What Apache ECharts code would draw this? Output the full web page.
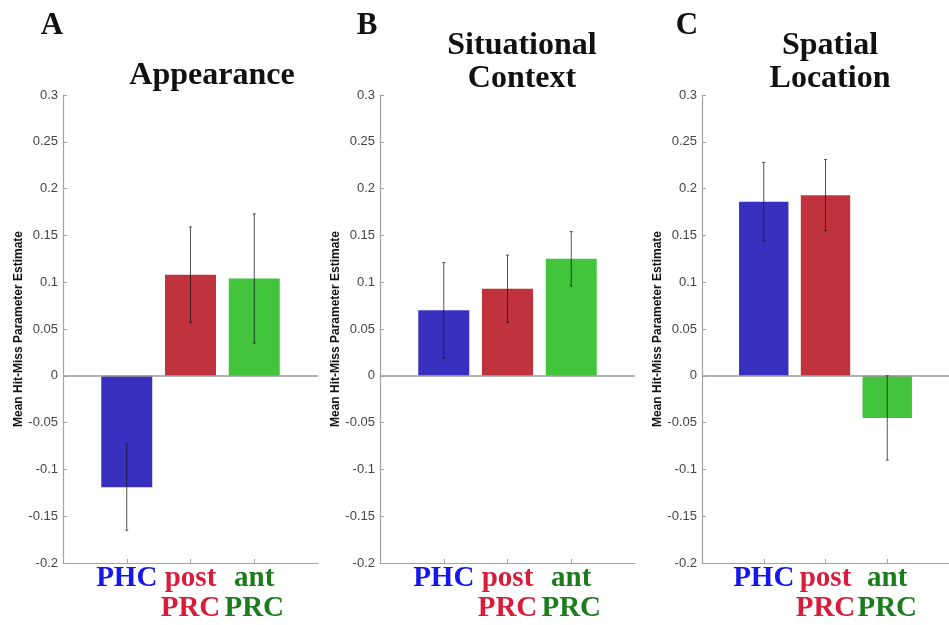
<!DOCTYPE html>
<html>
<head>
<meta charset="utf-8">
<script src="https://cdn.jsdelivr.net/npm/echarts@6/dist/echarts.min.js"></script>
<style>html,body{margin:0;padding:0;background:#fff}#chart{width:949px;height:625px}</style>
</head>
<body>
<div id="chart"></div>
<script>
// data
const regions = ['PHC', 'post PRC', 'ant PRC']
const regionX = [1, 2, 3]
const panelLetters = ['A', 'B', 'C']
const panelTitles = ['Appearance', 'Situational\nContext', 'Spatial\nLocation']
const appearanceMean = [-0.119, 0.108, 0.104]
const appearanceErr = [0.046, 0.051, 0.069]
const contextMean = [0.070, 0.093, 0.125]
const contextErr = [0.051, 0.036, 0.029]
const locationMean = [0.186, 0.193, -0.045]
const locationErr = [0.042, 0.038, 0.045]
const yMin = -0.2, yMax = 0.3, yStep = 0.05

const panelMeans = [appearanceMean, contextMean, locationMean]
const panelErrs = [appearanceErr, contextErr, locationErr]

const barColors = ['#3a30c0', '#c0323c', '#42c43c']
const labelKeys = ['b', 'r', 'g']
const gridLeft = [63, 380, 702]
const axisGray = '#a3a3a3'
const serif = '"Liberation Serif", "Times New Roman", serif'
const sans = '"Liberation Sans", Arial, sans-serif'

function renderBar(params, api) {
  const x = api.value(0), y = api.value(1)
  const w = api.size([0.8, 0])[0]
  const p0 = api.coord([x, 0]), p1 = api.coord([x, y])
  return {
    type: 'rect',
    shape: { x: p0[0] - w / 2, y: Math.min(p0[1], p1[1]), width: w, height: Math.abs(p1[1] - p0[1]) },
    style: { fill: barColors[params.dataIndex] }
  }
}

function renderErr(params, api) {
  const x = api.value(0), lo = api.value(1), hi = api.value(2)
  const a = api.coord([x, hi]), b = api.coord([x, lo])
  const style = { stroke: 'rgba(25,25,25,0.75)', lineWidth: 1 }
  return {
    type: 'group',
    children: [
      { type: 'line', shape: { x1: a[0], y1: a[1], x2: b[0], y2: b[1] }, style },
      { type: 'line', shape: { x1: a[0] - 1.5, y1: a[1], x2: a[0] + 1.5, y2: a[1] }, style },
      { type: 'line', shape: { x1: b[0] - 1.5, y1: b[1], x2: b[0] + 1.5, y2: b[1] }, style }
    ]
  }
}

function regionLabel(v) {
  const i = regionX.indexOf(v)
  if (i < 0) return ''
  const k = labelKeys[i]
  return regions[i].split(' ').map(w => `{${k}|${w}}`).join('\n')
}

const richBase = { fontFamily: serif, fontWeight: 'bold', fontSize: 29, lineHeight: 30 }
const rich = {
  b: { ...richBase, color: '#1616ee' },
  r: { ...richBase, color: '#d81c3a' },
  g: { ...richBase, color: '#1c7c1c' }
}

const grid = [], xAxis = [], yAxis = [], series = [], title = []
panelMeans.forEach((means, p) => {
  const errs = panelErrs[p]
  grid.push({ left: gridLeft[p], width: 255, top: 95, bottom: 62 })
  xAxis.push({
    gridIndex: p, type: 'value', min: 0, max: 4, interval: 1, position: 'bottom',
    axisLine: { onZero: false, lineStyle: { color: axisGray, width: 1.2 } },
    axisTick: { inside: true, length: 4, customValues: regionX, lineStyle: { color: axisGray } },
    axisLabel: { customValues: regionX, margin: 1, formatter: regionLabel, rich },
    splitLine: { show: false }
  })
  yAxis.push({
    gridIndex: p, type: 'value', min: yMin, max: yMax, interval: yStep,
    axisLine: { show: true, lineStyle: { color: axisGray, width: 1.2 } },
    axisTick: { show: true, inside: true, length: 4, lineStyle: { color: axisGray } },
    splitLine: { show: false },
    axisLabel: { color: '#444', fontSize: 13, fontFamily: sans, margin: 5, formatter: v => String(+v.toFixed(2)) },
    name: 'Mean Hit-Miss Parameter Estimate', nameLocation: 'middle', nameGap: 38,
    nameTextStyle: { fontSize: 12, fontWeight: 'bold', color: '#111', fontFamily: sans }
  })
  series.push({
    type: 'custom', xAxisIndex: p, yAxisIndex: p, renderItem: renderBar,
    encode: { x: 0, y: 1 },
    data: means.map((m, i) => [regionX[i], m]),
    markLine: {
      silent: true, symbol: 'none', label: { show: false },
      lineStyle: { color: '#999', width: 1.5, type: 'solid' },
      data: [{ yAxis: 0 }]
    }
  })
  series.push({
    type: 'custom', xAxisIndex: p, yAxisIndex: p, renderItem: renderErr, z: 5,
    encode: { x: 0, y: [1, 2] },
    data: means.map((m, i) => [regionX[i], m - errs[i], m + errs[i]])
  })
})

const letterX = [52, 367, 687]
const titleX = [212, 522, 830]
const titleTop = [59, 29, 29]
panelLetters.forEach((t, p) => {
  title.push({ text: t, left: letterX[p], top: 9, textAlign: 'center', padding: 0,
    textStyle: { fontFamily: serif, fontWeight: 'bold', fontSize: 31, lineHeight: 33, color: '#111' } })
  title.push({ text: panelTitles[p], left: titleX[p], top: titleTop[p], textAlign: 'center', padding: 0,
    textStyle: { fontFamily: serif, fontWeight: 'bold', fontSize: 32, lineHeight: 33, color: '#111' } })
})

const chart = echarts.init(document.getElementById('chart'))
chart.setOption({ animation: false, backgroundColor: '#fff', title, grid, xAxis, yAxis, series })
</script>
</body>
</html>
